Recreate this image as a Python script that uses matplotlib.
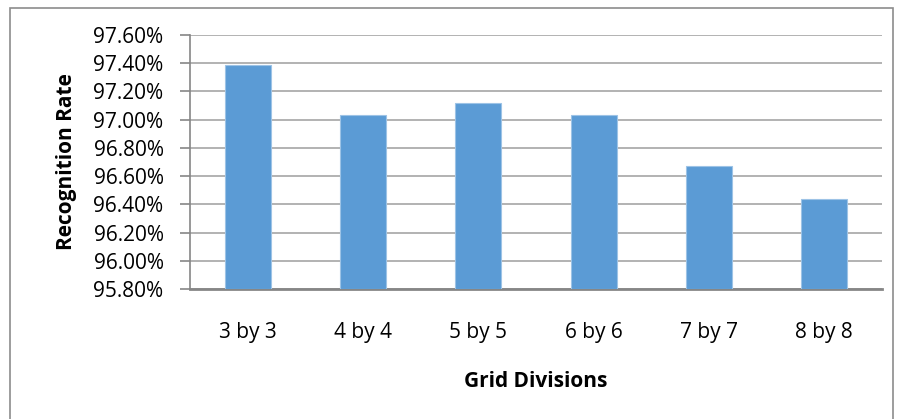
import numpy as np
import matplotlib.pyplot as plt
from matplotlib.patches import Rectangle
from matplotlib.ticker import FuncFormatter

# data
categories = ['3 by 3', '4 by 4', '5 by 5', '6 by 6', '7 by 7', '8 by 8']
rates = [97.39, 97.03, 97.12, 97.03, 96.67, 96.44]  # percent
yticks = np.arange(95.80, 97.61, 0.20)

plt.rcParams['font.family'] = ['Open Sans', 'DejaVu Sans']

fig = plt.figure(figsize=(8.97, 4.19), dpi=100)
ax = fig.add_axes([190 / 897, 1 - 289 / 419, (882 - 190) / 897, (289 - 35) / 419])

# outer chart frame
fig.patches.append(Rectangle((10 / 897, -0.1), (893 - 10) / 897, 1.1 - 8 / 419,
                             transform=fig.transFigure, fill=False,
                             edgecolor='#8c8c8c', linewidth=1.2))

x = np.arange(len(categories))
ax.bar(x, np.array(rates) - 95.80, bottom=95.80, width=0.4,
       color='#5b9bd5', edgecolor='#9dc3e6', linewidth=0.8, zorder=3)

ax.set_xlim(-0.5, len(categories) - 0.5)
ax.set_ylim(95.80, 97.60)
ax.set_yticks(yticks)
ax.yaxis.set_major_formatter(FuncFormatter(lambda v, p: f'{v:.2f}%'))
ax.set_xticks(x)
ax.set_xticklabels(categories)

ax.grid(axis='y', color='#a6a6a6', linewidth=1.2, zorder=0)
for s in ['top', 'right']:
    ax.spines[s].set_visible(False)
ax.spines['left'].set_color('#868686')
ax.spines['left'].set_linewidth(1.2)
ax.spines['bottom'].set_color('#868686')
ax.spines['bottom'].set_linewidth(2)

ax.tick_params(axis='y', length=7, width=1.2, color='#868686', labelsize=15, pad=12)
ax.tick_params(axis='x', length=0, labelsize=15, pad=24)

ax.set_xlabel('Grid Divisions', fontsize=15, fontweight='bold', labelpad=20)
ax.set_ylabel('Recognition Rate', fontsize=15, fontweight='bold', labelpad=12)

fig.savefig('out.png', dpi=100)
